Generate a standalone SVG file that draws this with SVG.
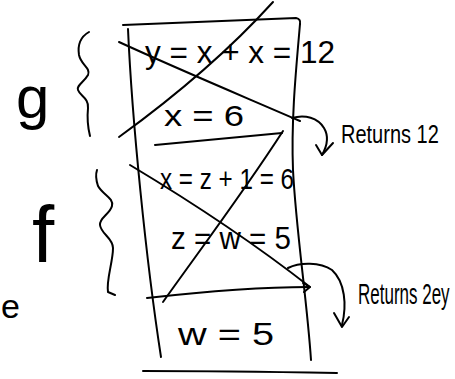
<svg xmlns="http://www.w3.org/2000/svg" width="455" height="379" viewBox="0 0 455 379">
<style>
.s{fill:none;stroke:#000;stroke-width:2;stroke-linecap:round;stroke-linejoin:round}
.t{font-family:"Liberation Sans",Arial,sans-serif;fill:#000}
</style>
<rect width="455" height="379" fill="#fff"/>
<g id="stack">
<path class="s" d="M123,25 L296,18 Q301,19 300,24"/>
<path class="s" d="M128,29 C132,120 146,260 161,357"/>
<path class="s" d="M300,24 C296,70 291,120 293,170 C296,230 307,300 311,360"/>
<path class="s" d="M155,145 L282,133"/>
<path class="s" d="M147,298 C200,292 260,287 309,287"/>
<path class="s" d="M143,371 C210,371 280,372 337,373"/>
</g>
<g id="crossings">
<path class="s" d="M119,42 C180,70 240,95 300,121"/>
<path class="s" d="M119,137 C170,100 225,55 273,2"/>
<path class="s" d="M130,165 C180,195 250,240 310,287"/>
<path class="s" d="M303,283 L310,287 L304,292"/>
<path class="s" d="M163,302 C200,250 245,190 283,131"/>
</g>
<g id="connectors">
<path class="s" d="M292,118 C305,114 318,118 324,128 C330,138 326,148 322,155"/>
<path class="s" d="M316,145 L322,155 L333,143"/>
<path class="s" d="M288,268 C300,262 320,262 332,270 C345,282 347,305 342,325"/>
<path class="s" d="M334,313 L342,327 L349,317"/>
</g>
<g id="braces">
<path class="s" d="M89,32 C82,36 77,42 79,55 C81,65 91,68 88,75 C84,82 76,86 78,90 C80,96 89,98 88,108 C87,118 88,128 90,136"/>
<path class="s" d="M97,170 C95,176 96,180 98,186 C103,195 114,198 112,206 C110,214 99,218 100,225 C101,234 113,238 113,248 C113,262 106,280 108,292 L115,295"/>
</g>
<g id="labels">
<text class="t" x="16" y="118" font-size="60">g</text>
<text class="t" x="32" y="262" font-size="80">f</text>
<text class="t" x="1" y="318" font-size="34">e</text>
<text class="t" x="145" y="63" font-size="32" textLength="190" lengthAdjust="spacingAndGlyphs">y = x + x = 12</text>
<text class="t" x="164" y="126" font-size="30" textLength="80" lengthAdjust="spacingAndGlyphs">x = 6</text>
<text class="t" x="160" y="189" font-size="30" textLength="134" lengthAdjust="spacingAndGlyphs">x = z + 1 = 6</text>
<text class="t" x="171" y="249" font-size="32" textLength="120" lengthAdjust="spacingAndGlyphs">z = w = 5</text>
<text class="t" x="178" y="345" font-size="32" textLength="96" lengthAdjust="spacingAndGlyphs">w = 5</text>
<text class="t" transform="translate(341,143) scale(1,1.3)" font-size="20">Returns 12</text>
<text class="t" transform="translate(358,304) scale(1,1.7)" font-size="17">Returns 2ey</text>
</g>
</svg>
